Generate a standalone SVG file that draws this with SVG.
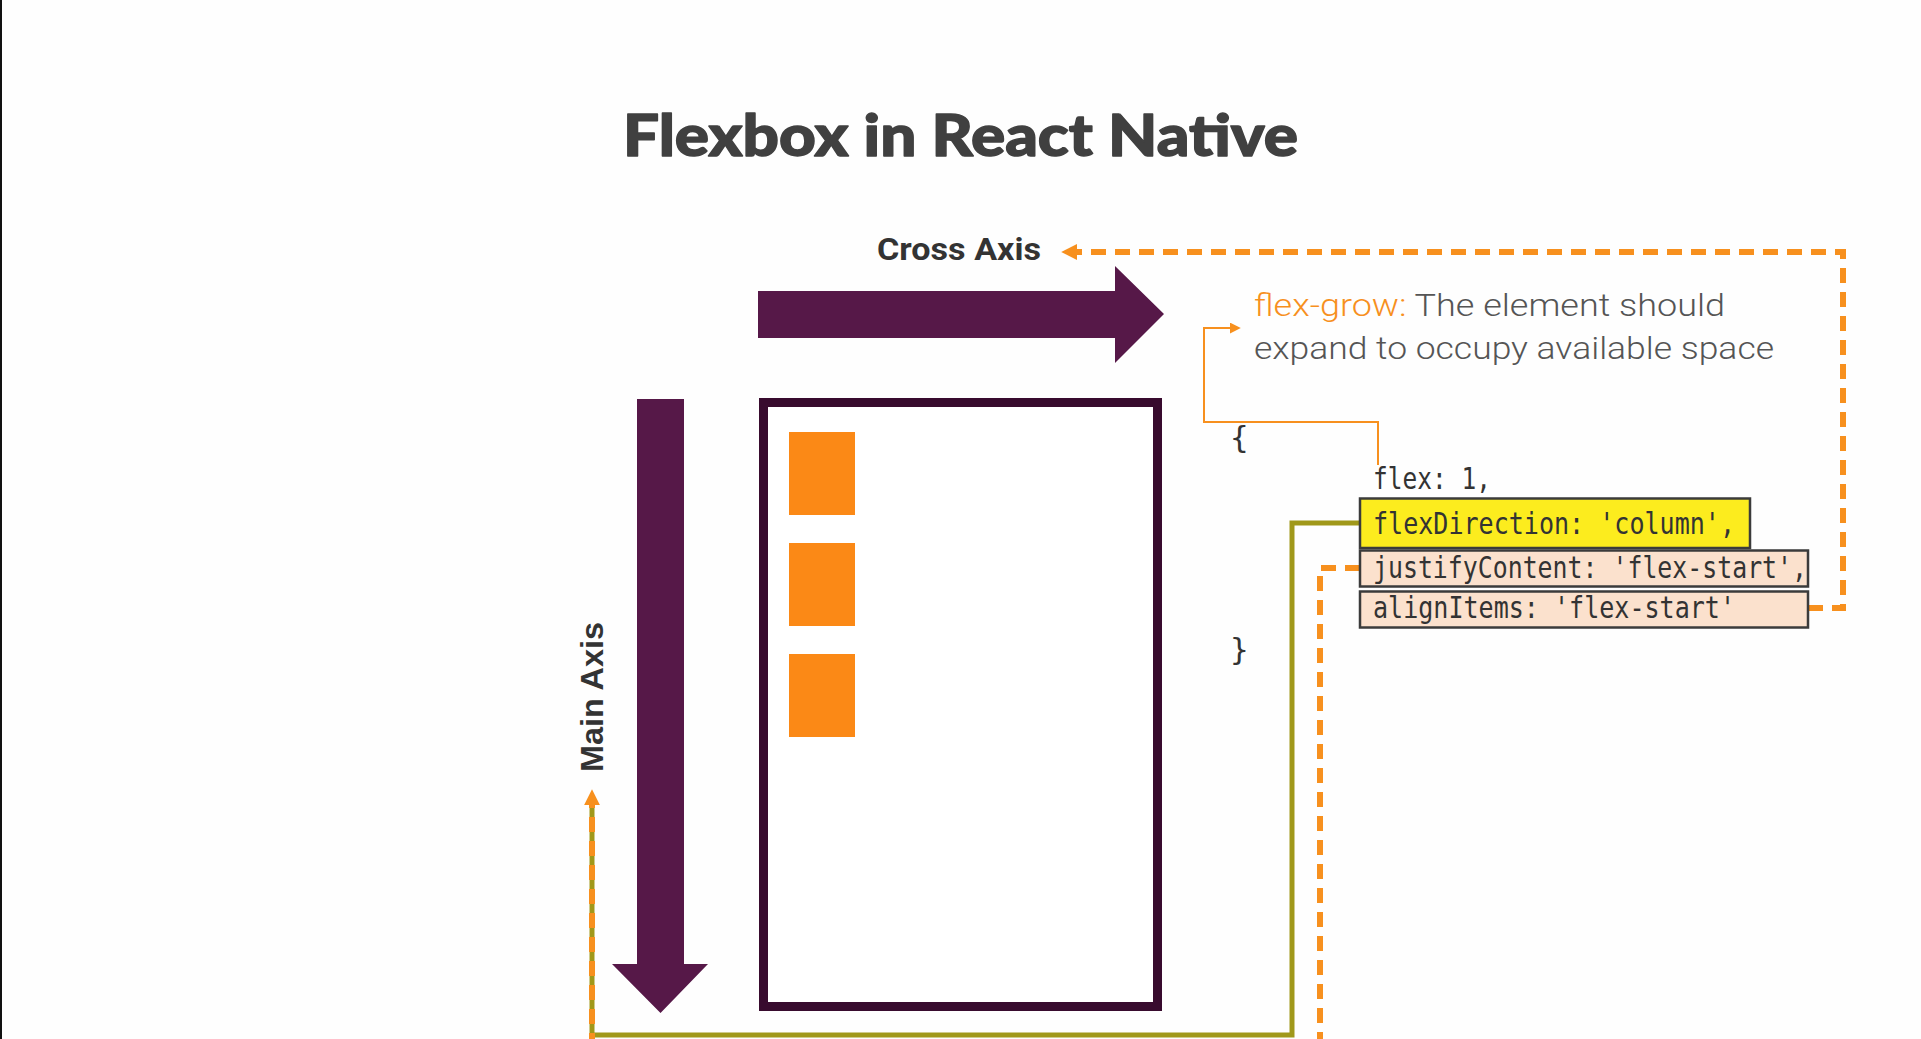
<svg xmlns="http://www.w3.org/2000/svg" width="1921" height="1039" viewBox="0 0 1921 1039">
<defs>
<style>
.title{font-family:Lato,"Liberation Sans",sans-serif;font-weight:900;font-size:58px;fill:#404040;stroke:#404040;stroke-width:1.4;stroke-linejoin:round}
.axis{font-family:Roboto,"Liberation Sans",sans-serif;font-weight:bold;font-size:31px;fill:#333}
.axis2{font-family:"Liberation Sans",Arial,sans-serif;font-weight:bold;font-size:32px;fill:#333}
.desc{font-family:Roboto,"Liberation Sans",sans-serif;font-weight:300;font-size:32px;fill:#555}
.code{font-family:"DejaVu Sans Mono","Liberation Mono",monospace;font-size:31px;fill:#333}
.purple{fill:#561848}
.sq{fill:#fb8916}
.codebox{stroke:#3b3b3b;stroke-width:2.5}
.dash{fill:none;stroke:#f7901e;stroke-width:6;stroke-dasharray:15 9}
.olive{fill:none;stroke:#a0981a;stroke-width:5}
.thin{fill:none;stroke:#f7901e;stroke-width:2}
</style>
<marker id="ah" viewBox="0 0 10 10" refX="2" refY="5" markerWidth="16" markerHeight="16" markerUnits="userSpaceOnUse" orient="auto">
<path d="M0,0 L10,5 L0,10 z" fill="#f7901e"/>
</marker>
<marker id="ahs" viewBox="0 0 10 10" refX="2" refY="5" markerWidth="11" markerHeight="11" markerUnits="userSpaceOnUse" orient="auto">
<path d="M0,0 L10,5 L0,10 z" fill="#f7901e"/>
</marker>
</defs>
<rect x="0" y="0" width="1921" height="1039" fill="#fefefe"/>
<rect x="0" y="0" width="2" height="1039" fill="#111"/>

<g id="title"><text class="title" x="623" y="156" textLength="675" lengthAdjust="spacingAndGlyphs">Flexbox in React Native</text></g>

<g id="connectors">
<path class="olive" d="M1360,523 H1292 V1035 H592 V800"/>
<path class="dash" d="M1360,568 H1320 V1060 H592 V802" marker-end="url(#ah)"/>
<path class="dash" d="M1808,608 H1843 V252 H1074" marker-end="url(#ah)"/>
<path class="thin" d="M1378,465 V422 H1204 V328 H1232" marker-end="url(#ahs)"/>
</g>

<g id="cross-axis">
<text class="axis" x="877" y="260" textLength="164" lengthAdjust="spacingAndGlyphs">Cross Axis</text>
<polygon class="purple" points="758,291 1115,291 1115,266 1164,314 1115,363 1115,338 758,338"/>
</g>

<g id="main-axis">
<text class="axis2" transform="translate(603,772) rotate(-90)" textLength="150" lengthAdjust="spacingAndGlyphs">Main Axis</text>
<polygon class="purple" points="637,399 684,399 684,964 708,964 660.5,1013 612,964 637,964"/>
</g>

<g id="container">
<rect x="763.5" y="402.5" width="394" height="604" fill="#fff" stroke="#380b2e" stroke-width="9"/>
<rect class="sq" x="789" y="432" width="66" height="83"/>
<rect class="sq" x="789" y="543" width="66" height="83"/>
<rect class="sq" x="789" y="654" width="66" height="83"/>
</g>

<g id="flex-grow-note">
<text class="desc" x="1254" y="316" textLength="471" lengthAdjust="spacingAndGlyphs"><tspan fill="#f7901e">flex-grow:</tspan> The element should</text>
<text class="desc" x="1254" y="359" textLength="520" lengthAdjust="spacingAndGlyphs">expand to occupy available space</text>
</g>

<g id="style-object">
<text class="code" x="1230" y="448">{</text>
<text class="code" x="1373" y="489" textLength="118" lengthAdjust="spacingAndGlyphs">flex: 1,</text>
<text class="code" x="1230" y="660">}</text>
</g>

<g id="flexDirection">
<rect class="codebox" x="1360" y="498.5" width="390" height="49.5" fill="#fcec1e"/>
<text class="code" x="1373" y="534" textLength="362" lengthAdjust="spacingAndGlyphs">flexDirection: 'column',</text>
</g>

<g id="justifyContent">
<rect class="codebox" x="1360" y="550.5" width="448" height="36" fill="#fbe1cd"/>
<text class="code" x="1373" y="578" textLength="434" lengthAdjust="spacingAndGlyphs">justifyContent: 'flex-start',</text>
</g>

<g id="alignItems">
<rect class="codebox" x="1360" y="591.5" width="448" height="36" fill="#fbe1cd"/>
<text class="code" x="1373" y="618" textLength="362" lengthAdjust="spacingAndGlyphs">alignItems: 'flex-start'</text>
</g>
</svg>
